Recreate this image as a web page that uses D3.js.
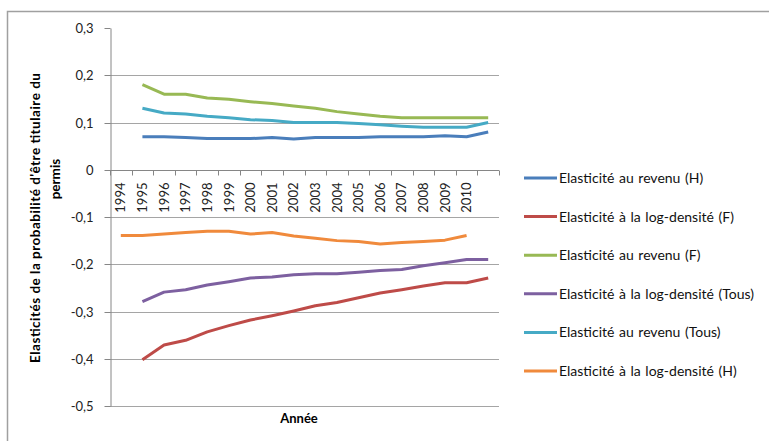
<!DOCTYPE html>
<html>
<head>
<meta charset="utf-8">
<script src="https://cdn.jsdelivr.net/npm/d3@7"></script>
<style>
  body { margin: 0; background: #fff; }
  svg { display: block; font-family: Lato, "Open Sans", sans-serif; }
  .grid line { stroke: #a5a5a5; stroke-width: 1; }
  .axis path, .axis line { stroke: #868686; stroke-width: 1; }
  .axis text { fill: #222; font-size: 13px; }
  .line { fill: none; stroke-width: 3; stroke-linejoin: round; }
  .legend text { font-size: 14px; fill: #111; word-spacing: 1px; }
</style>
</head>
<body>
<div id="chart"></div>
<script>
// Categories (the last category has an empty label)
const categories = ["1994", "1995", "1996", "1997", "1998", "1999", "2000", "2001", "2002",
  "2003", "2004", "2005", "2006", "2007", "2008", "2009", "2010", ""];
const yTicks = [-0.5, -0.4, -0.3, -0.2, -0.1, 0, 0.1, 0.2, 0.3];

// Series values
const revenuH = [0.070, 0.070, 0.068, 0.066, 0.066, 0.066, 0.068, 0.065, 0.068, 0.068, 0.068, 0.070, 0.070, 0.070, 0.072, 0.070, 0.080];
const logDensiteF = [-0.402, -0.371, -0.361, -0.343, -0.330, -0.318, -0.309, -0.299, -0.288, -0.281, -0.271, -0.261, -0.254, -0.246, -0.239, -0.239, -0.229];
const revenuF = [0.180, 0.160, 0.160, 0.152, 0.149, 0.144, 0.140, 0.135, 0.130, 0.123, 0.118, 0.113, 0.110, 0.110, 0.110, 0.110, 0.110];
const logDensiteTous = [-0.279, -0.259, -0.254, -0.244, -0.237, -0.229, -0.227, -0.222, -0.220, -0.220, -0.217, -0.213, -0.211, -0.203, -0.197, -0.190, -0.190];
const revenuTous = [0.130, 0.120, 0.118, 0.113, 0.110, 0.106, 0.104, 0.100, 0.100, 0.100, 0.098, 0.095, 0.092, 0.090, 0.090, 0.090, 0.100];
const logDensiteH = [-0.139, -0.139, -0.136, -0.133, -0.130, -0.130, -0.136, -0.133, -0.140, -0.145, -0.150, -0.152, -0.157, -0.154, -0.152, -0.149, -0.139];

const series = [
  { name: "Elasticité au revenu (H)", values: revenuH, start: 1, color: "#4a7ebb" },
  { name: "Elasticité à la log-densité (F)", values: logDensiteF, start: 1, color: "#be4b48" },
  { name: "Elasticité au revenu (F)", values: revenuF, start: 1, color: "#98b954" },
  { name: "Elasticité à la log-densité (Tous)", values: logDensiteTous, start: 1, color: "#7d60a0" },
  { name: "Elasticité au revenu (Tous)", values: revenuTous, start: 1, color: "#46aac5" },
  { name: "Elasticité à la log-densité (H)", values: logDensiteH, start: 0, color: "#f08a3c" },
];

const svgWidth = 769, svgHeight = 441;
const plot = { left: 110, right: 499, top: 28, bottom: 406 };

const svg = d3.select("#chart").append("svg")
  .attr("width", svgWidth)
  .attr("height", svgHeight);

// Outer frame (cropped on the right and at the bottom)
svg.append("rect")
  .attr("x", 7.5).attr("y", 11.5)
  .attr("width", 900).attr("height", 600)
  .attr("fill", "none")
  .attr("stroke", "#a0a0a0")
  .attr("stroke-width", 1.5);

// Scales
const x = d3.scaleBand().domain(d3.range(categories.length)).range([plot.left, plot.right]);
const y = d3.scaleLinear().domain([-0.5, 0.3]).range([plot.bottom, plot.top]);

const locale = d3.formatLocale({ decimal: ",", thousands: " ", grouping: [3], currency: ["", ""], minus: "-" });
const fmt = locale.format(".1f");

// Gridlines
svg.append("g").attr("class", "grid")
  .selectAll("line")
  .data(yTicks.filter((d) => d < 0.3 && d !== 0))
  .join("line")
  .attr("x1", plot.left).attr("x2", plot.right)
  .attr("y1", (d) => Math.round(y(d)) + 0.5)
  .attr("y2", (d) => Math.round(y(d)) + 0.5);

// Y axis
const gY = svg.append("g").attr("class", "axis")
  .attr("transform", `translate(${plot.left + 0.5},0)`)
  .call(d3.axisLeft(y).tickValues(yTicks).tickSize(6).tickSizeOuter(0)
    .tickFormat((d) => (Math.abs(d) < 1e-9 ? "0" : fmt(d))));
gY.selectAll(".tick").attr("transform", (d) => `translate(0,${Math.round(y(d)) + 0.5})`);
gY.selectAll("text").attr("x", -17).style("font-family", "Lato, sans-serif");

// X axis at y = 0
const gX = svg.append("g").attr("class", "axis")
  .attr("transform", `translate(0,${Math.round(y(0)) + 0.5})`);
gX.append("line").attr("x1", plot.left).attr("x2", plot.right);
const bounds = d3.range(categories.length + 1).map((i) => plot.left + i * x.step());
gX.selectAll(".xtick").data(bounds).join("line")
  .attr("class", "xtick")
  .attr("x1", (d) => Math.round(d) + 0.5).attr("x2", (d) => Math.round(d) + 0.5)
  .attr("y1", 0).attr("y2", 5);
gX.selectAll(".xlabel").data(categories).join("text")
  .attr("class", "xlabel")
  .attr("transform", (d, i) => `translate(${x(i) + x.bandwidth() / 2},12) rotate(-90)`)
  .attr("text-anchor", "end")
  .attr("dy", "0.36em")
  .text((d) => d);

// Lines
const line = d3.line()
  .x((d) => x(d.i) + x.bandwidth() / 2)
  .y((d) => y(d.v));
svg.append("g").selectAll(".line")
  .data(series)
  .join("path")
  .attr("class", "line")
  .attr("stroke", (d) => d.color)
  .attr("d", (s) => line(s.values.map((v, k) => ({ i: s.start + k, v }))));

// Axis titles
svg.append("text")
  .attr("x", 299).attr("y", 423)
  .attr("text-anchor", "middle")
  .style("font-weight", "bold").style("font-size", "13px")
  .text("Année");

svg.append("text")
  .attr("transform", "translate(40,218) rotate(-90)")
  .attr("text-anchor", "middle")
  .attr("textLength", 290)
  .attr("lengthAdjust", "spacing")
  .style("font-weight", "bold").style("font-size", "13.5px")
  .text("Elasticités de la probabilité d'être titulaire du");
svg.append("text")
  .attr("transform", "translate(60,179) rotate(-90)")
  .attr("text-anchor", "middle")
  .style("font-weight", "bold").style("font-size", "13.5px")
  .text("permis");

// Legend
const legend = svg.append("g").attr("class", "legend")
  .attr("transform", "translate(524,178)");
const item = legend.selectAll("g").data(series).join("g")
  .attr("transform", (d, i) => `translate(0,${i * 38.6})`);
item.append("line")
  .attr("x1", 0).attr("x2", 33)
  .attr("stroke", (d) => d.color)
  .attr("stroke-width", 3);
item.append("text")
  .attr("x", 35).attr("dy", "0.36em")
  .text((d) => d.name);
</script>
</body>
</html>
